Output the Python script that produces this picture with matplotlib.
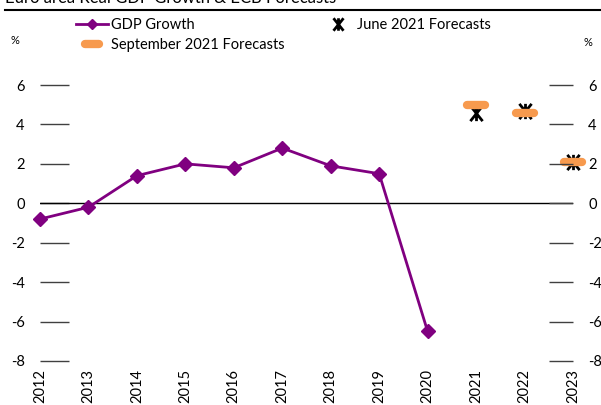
import matplotlib.pyplot as plt
from matplotlib.lines import Line2D
from matplotlib.markers import MarkerStyle
from matplotlib.path import Path

plt.rcParams['font.family'] = ['Lato', 'DejaVu Sans']

years = [2012, 2013, 2014, 2015, 2016, 2017, 2018, 2019, 2020, 2021, 2022, 2023]
gdp_years = [2012, 2013, 2014, 2015, 2016, 2017, 2018, 2019, 2020]
gdp_growth = [-0.8, -0.2, 1.4, 2.0, 1.8, 2.8, 1.9, 1.5, -6.5]
fc_years = [2021, 2022, 2023]
june_fc = [4.6, 4.7, 2.1]
sept_fc = [5.0, 4.6, 2.1]
yticks = [-8, -6, -4, -2, 0, 2, 4, 6]

purple = '#800080'
orange = '#F79A4E'
dash = MarkerStyle('_', capstyle='round')
# excel-like star: an X with a vertical stroke through it
star = Path([(-0.8, -1), (0.8, 1), (-0.8, 1), (0.8, -1), (0, -1), (0, 1)],
            [Path.MOVETO, Path.LINETO, Path.MOVETO, Path.LINETO,
             Path.MOVETO, Path.LINETO])

fig = plt.figure(figsize=(6.01, 4.05), dpi=100)
ax = fig.add_axes([40 / 601, 1 - 361 / 405, 533 / 601, 276 / 405])

ax.plot(gdp_years, gdp_growth, color=purple, lw=2, marker='D', ms=7,
        clip_on=False, zorder=3)
ax.plot(fc_years, june_fc, ls='none', marker=star, ms=11, mew=2,
        color='black', clip_on=False, zorder=3)
ax.plot(fc_years, sept_fc, ls='none', marker=dash, ms=13, mew=6,
        color=orange, clip_on=False, zorder=4)

ax.axhline(0, color='black', lw=1, zorder=2)
ax.set_xlim(2012, 2023)
ax.set_ylim(-8, 6)
for s in ax.spines.values():
    s.set_visible(False)

ax.set_xticks(years)
ax.set_xticklabels([str(y) for y in years], rotation=90, fontsize=10.5)
ax.tick_params(axis='x', length=0, pad=6)
ax.set_yticks(yticks)
ax.set_yticklabels([str(v) for v in yticks], fontsize=10.5)
ax.tick_params(axis='y', direction='in', length=21, width=1, color='#404040',
               pad=11)

ax2 = ax.twinx()
ax2.set_ylim(-8, 6)
for s in ax2.spines.values():
    s.set_visible(False)
ax2.set_yticks(yticks)
ax2.set_yticklabels([str(v) for v in yticks], fontsize=10.5)
ax2.tick_params(axis='y', direction='in', length=17, width=1, color='#404040',
                pad=11)

fig.text(15 / 601, 1 - 40 / 405, '%', fontsize=8, ha='center', va='center')
fig.text(588 / 601, 1 - 43 / 405, '%', fontsize=8, ha='center', va='center')

fig.text(5 / 601, 1 - 3 / 405, 'Euro area Real GDP Growth & ECB Forecasts',
         fontsize=12, ha='left', va='baseline')
fig.add_artist(Line2D([5 / 601, 1], [1 - 10 / 405, 1 - 10 / 405],
                      transform=fig.transFigure, color='black', lw=1.5))

handles = [
    Line2D([], [], color=purple, lw=2, marker='D', ms=5),
    Line2D([], [], ls='none', marker=dash, ms=10, mew=6, color=orange),
    Line2D([], [], ls='none', marker=star, ms=9, mew=2, color='black'),
]
labels = ['GDP Growth', 'September 2021 Forecasts', 'June 2021 Forecasts']
fig.legend(handles, labels, ncol=2, loc='upper left',
           bbox_to_anchor=(70 / 601, 1 - 12 / 405), frameon=False,
           fontsize=10.5, handlelength=2.2, handletextpad=0.2,
           columnspacing=2.6, labelspacing=0.45, borderaxespad=0)

fig.savefig('out.png', dpi=100)
